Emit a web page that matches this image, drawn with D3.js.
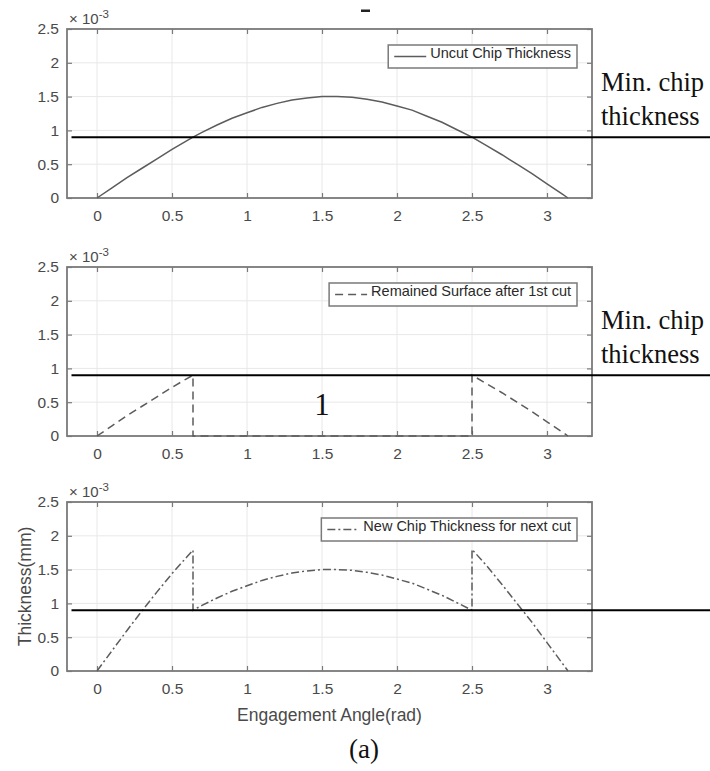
<!DOCTYPE html>
<html>
<head>
<meta charset="utf-8">
<script src="https://cdn.jsdelivr.net/npm/d3@7"></script>
<style>
  html, body { margin: 0; padding: 0; background: #fff; }
  svg { display: block; }
</style>
</head>
<body>
<svg id="chart" width="710" height="771"></svg>
<script>
// Engagement angle (rad) samples and chip thickness values (units of 1e-3 mm)
const angle = [0, 0.1, 0.2, 0.3, 0.4, 0.5, 0.6, 0.64, 0.7, 0.8, 0.9, 1.0, 1.1, 1.2, 1.3, 1.4, 1.5, 1.6,
               1.7, 1.8, 1.9, 2.0, 2.1, 2.2, 2.3, 2.4, 2.5, 2.6, 2.7, 2.8, 2.9, 3.0, 3.1, 3.14];
const uncutChip = [0, 0.15, 0.30, 0.44, 0.58, 0.72, 0.85, 0.90, 0.97, 1.08, 1.18, 1.26, 1.34, 1.40, 1.45, 1.48, 1.50, 1.50,
                   1.49, 1.46, 1.42, 1.36, 1.30, 1.21, 1.12, 1.01, 0.90, 0.77, 0.64, 0.50, 0.36, 0.21, 0.06, 0];

// Surface left behind by the first cut (jumps at the engagement limits)
const remainedAngle = [0, 0.1, 0.2, 0.3, 0.4, 0.5, 0.6, 0.64, 0.64, 2.5, 2.5, 2.6, 2.7, 2.8, 2.9, 3.0, 3.1, 3.14];
const remainedValue = [0, 0.15, 0.30, 0.44, 0.58, 0.72, 0.85, 0.90, 0, 0, 0.90, 0.77, 0.64, 0.50, 0.36, 0.21, 0.06, 0];

// Chip thickness seen by the next cut
const newChipAngle = [0, 0.1, 0.2, 0.3, 0.4, 0.5, 0.6, 0.64, 0.64, 0.7, 0.8, 0.9, 1.0, 1.1, 1.2, 1.3, 1.4, 1.5, 1.6,
                      1.7, 1.8, 1.9, 2.0, 2.1, 2.2, 2.3, 2.4, 2.5, 2.5, 2.6, 2.7, 2.8, 2.9, 3.0, 3.1, 3.14];
const newChipValue = [0, 0.30, 0.60, 0.89, 1.17, 1.44, 1.69, 1.79, 0.90, 0.97, 1.08, 1.18, 1.26, 1.34, 1.40, 1.45, 1.48, 1.50, 1.50,
                      1.49, 1.46, 1.42, 1.36, 1.30, 1.21, 1.12, 1.01, 0.90, 1.80, 1.55, 1.28, 1.00, 0.72, 0.42, 0.12, 0];

const minChipThickness = 0.9;
const xTicks = [0, 0.5, 1, 1.5, 2, 2.5, 3];
const yTicks = [0, 0.5, 1, 1.5, 2, 2.5];
const xTickLabels = ["0", "0.5", "1", "1.5", "2", "2.5", "3"];
const yTickLabels = ["0", "0.5", "1", "1.5", "2", "2.5"];

const legendLabels = ["Uncut Chip Thickness", "Remained Surface after 1st cut", "New Chip Thickness for next cut"];
const xLabel = "Engagement Angle(rad)";
const yLabel = "Thickness(mm)";
const sideNote = ["Min. chip", "thickness"];
const regionLabel = "1";
const caption = "(a)";

const svg = d3.select("#chart");
svg.append("rect").attr("width", 710).attr("height", 771).attr("fill", "#fff");

const left = 67, right = 592, panelH = 169;
const panelTops = [29, 267, 502];
const sansFont = "'Liberation Sans', Arial, Helvetica, sans-serif";
const serifFont = "'Liberation Serif', 'Times New Roman', serif";
const axisGray = "#7a7a7a";
const textGray = "#4a4a4a";
const curveGray = "#5c5c5c";

const x = d3.scaleLinear().domain([-0.2, 3.3]).range([left, right]);

const panels = [
  { xs: angle, ys: uncutChip, dash: null, legend: legendLabels[0] },
  { xs: remainedAngle, ys: remainedValue, dash: "8,5", legend: legendLabels[1] },
  { xs: newChipAngle, ys: newChipValue, dash: "8,3,2,3", legend: legendLabels[2] }
];

panels.forEach((p, i) => {
  const top = panelTops[i], bottom = top + panelH;
  const y = d3.scaleLinear().domain([0, 2.5]).range([bottom, top]);
  const g = svg.append("g");

  // grid
  g.append("g").selectAll("line").data(xTicks).join("line")
    .attr("x1", d => x(d)).attr("x2", d => x(d)).attr("y1", top).attr("y2", bottom)
    .attr("stroke", "#e8e8e8").attr("stroke-width", 1);
  g.append("g").selectAll("line").data(yTicks).join("line")
    .attr("x1", left).attr("x2", right).attr("y1", d => y(d)).attr("y2", d => y(d))
    .attr("stroke", "#e8e8e8").attr("stroke-width", 1);

  // axes with inward ticks on all four sides
  const axB = d3.axisBottom(x).tickValues(xTicks).tickSize(-5).tickFormat((d, k) => xTickLabels[k]).tickPadding(12);
  const axT = d3.axisTop(x).tickValues(xTicks).tickSize(-5).tickFormat("");
  const axL = d3.axisLeft(y).tickValues(yTicks).tickSize(-5).tickFormat((d, k) => yTickLabels[k]).tickPadding(8);
  const axR = d3.axisRight(y).tickValues(yTicks).tickSize(-5).tickFormat("");
  [[axB, `translate(0,${bottom})`], [axT, `translate(0,${top})`], [axL, `translate(${left},0)`], [axR, `translate(${right},0)`]]
    .forEach(([ax, tr]) => {
      const a = g.append("g").attr("transform", tr).call(ax);
      a.select(".domain").remove();
      a.selectAll(".tick line").attr("stroke", axisGray).attr("stroke-width", 1.2);
      a.selectAll(".tick text").attr("fill", textGray).attr("font-family", sansFont).attr("font-size", 15.5);
    });
  g.append("rect").attr("x", left).attr("y", top).attr("width", right - left).attr("height", panelH)
    .attr("fill", "none").attr("stroke", axisGray).attr("stroke-width", 1.8);

  // exponent label
  const ex = g.append("text").attr("x", left + 2).attr("y", top - 5)
    .attr("font-family", sansFont).attr("font-size", 15).attr("fill", textGray);
  ex.append("tspan").text("\u00d7 10");
  ex.append("tspan").attr("dy", -6).attr("font-size", 11.5).text("-3");

  // curve
  const line = d3.line().x(d => x(d[0])).y(d => y(d[1]));
  const pts = p.xs.map((a, k) => [a, p.ys[k]]);
  g.append("path").attr("d", line(pts)).attr("fill", "none")
    .attr("stroke", curveGray).attr("stroke-width", 1.5)
    .attr("stroke-dasharray", p.dash);

  // minimum chip thickness reference line
  g.append("line").attr("x1", x(-0.17)).attr("x2", 710)
    .attr("y1", y(minChipThickness)).attr("y2", y(minChipThickness))
    .attr("stroke", "#000").attr("stroke-width", 2);

  // legend
  const lg = g.append("g");
  const lgText = lg.append("text").attr("x", 571).attr("y", top + 28.5).attr("text-anchor", "end")
    .attr("font-family", sansFont).attr("font-size", 14.5).attr("fill", "#2a2a2a").text(p.legend);
  const tw = lgText.node().getComputedTextLength();
  const sampleEnd = 571 - tw - 4, sampleStart = sampleEnd - 32;
  lg.insert("rect", "text").attr("x", sampleStart - 6).attr("y", top + 16).attr("width", 577 - (sampleStart - 6)).attr("height", 23)
    .attr("fill", "#fff").attr("stroke", axisGray).attr("stroke-width", 1.5);
  lg.append("line").attr("x1", sampleStart).attr("x2", sampleEnd).attr("y1", top + 27.5).attr("y2", top + 27.5)
    .attr("stroke", curveGray).attr("stroke-width", 1.5).attr("stroke-dasharray", p.dash);

  // side note
  if (i < 2) {
    const note = svg.append("text").attr("font-family", serifFont).attr("font-size", 26.5).attr("fill", "#111");
    note.append("tspan").attr("x", 601).attr("y", y(minChipThickness) - 46).text(sideNote[0]);
    note.append("tspan").attr("x", 601).attr("y", y(minChipThickness) - 12).text(sideNote[1]);
  }
  if (i === 1) {
    g.append("text").attr("x", x(1.5)).attr("y", bottom - 21).attr("text-anchor", "middle")
      .attr("font-family", serifFont).attr("font-size", 31).attr("fill", "#111").text(regionLabel);
  }
  if (i === 2) {
    g.append("text").attr("x", (left + right) / 2).attr("y", bottom + 50).attr("text-anchor", "middle")
      .attr("font-family", sansFont).attr("font-size", 17.5).attr("fill", textGray).text(xLabel);
    g.append("text").attr("transform", `translate(31,${(top + bottom) / 2}) rotate(-90)`).attr("text-anchor", "middle")
      .attr("font-family", sansFont).attr("font-size", 17.5).attr("fill", textGray).text(yLabel);
  }
});

// small mark left from a cropped title
svg.append("rect").attr("x", 361).attr("y", 9.5).attr("width", 9).attr("height", 2.5).attr("fill", "#222");

svg.append("text").attr("x", 364).attr("y", 758).attr("text-anchor", "middle")
  .attr("font-family", serifFont).attr("font-size", 27).attr("fill", "#111").text(caption);
</script>
</body>
</html>
